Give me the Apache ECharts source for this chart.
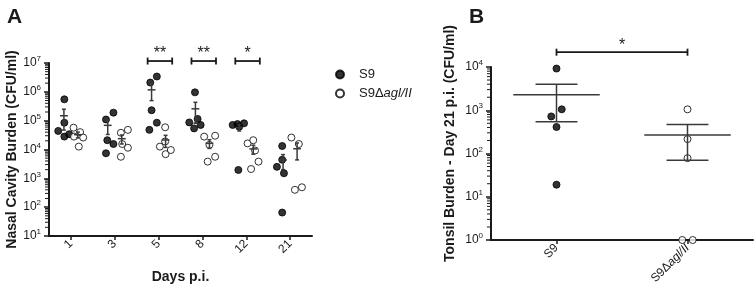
<!DOCTYPE html>
<html lang="en">
  <head>
    <meta charset="UTF-8" />
    <title>Nasal and tonsil burden</title>
    <script src="https://cdn.jsdelivr.net/npm/echarts@6/dist/echarts.min.js"></script>
    <style>
      html, body { margin: 0; padding: 0; background: #fff; }
    </style>
  </head>
  <body>
    <div id="main" style="width: 756px; height: 292px"></div>
    <script>
      // panel A - nasal cavity burden (CFU/ml), 5 pigs per group per day
      var days = ["1", "3", "5", "8", "12", "21"];
      var s9Nasal = [
        [5.5e5, 4.4e4, 8.5e4, 2.8e4, 3.4e4],
        [1.1e5, 1.9e5, 2.1e4, 1.55e4, 7.4e3],
        [2.1e6, 3.4e6, 2.3e5, 8.5e4, 4.8e4],
        [9.6e5, 1.15e5, 8.7e4, 7.1e4, 5.4e4],
        [7.1e4, 7.6e4, 8.1e4, 6.2e4, 1.95e3],
        [1.32e4, 2.5e3, 4.4e3, 1.5e3, 65]
      ];
      var mutNasal = [
        [5.7e4, 4.0e4, 2.8e4, 2.6e4, 1.26e4],
        [4.8e4, 3.8e4, 1.55e4, 1.15e4, 5.6e3],
        [5.9e4, 1.26e4, 6.9e3, 9.6e3, 1.9e4],
        [2.8e4, 3.0e4, 1.45e4, 5.6e3, 3.8e3],
        [1.63e4, 2.1e4, 9.2e3, 3.8e3, 2.1e3],
        [2.6e4, 1.55e4, 400, 490]
      ];
      // horizontal scatter of the dots (fraction of a category)
      var s9Jitter = [
        [0.01, -0.13, 0.01, 0.01, 0.12],
        [-0.04, 0.13, -0.01, 0.13, -0.04],
        [-0.03, 0.12, 0, 0.12, -0.05],
        [-0.01, 0.05, -0.14, 0.12, -0.03],
        [-0.15, -0.04, 0.11, 0, -0.02],
        [-0.02, -0.14, -0.02, 0.02, -0.02]
      ];
      var mutJitter = [
        [-0.1, 0.05, -0.09, 0.12, 0.02],
        [0.14, -0.02, 0.01, 0.14, -0.02],
        [-0.01, -0.13, 0, 0.12, -0.01],
        [-0.12, 0.13, 0, 0.13, -0.04],
        [-0.13, 0, 0.04, 0.12, -0.05],
        [-0.13, 0.04, -0.05, 0.11]
      ];
      var sigDays = [2, 3, 4];
      var sigStars = ["**", "**", "*"];
      var nasalExp = [1, 2, 3, 4, 5, 6, 7];

      // panel B - tonsil burden day 21
      var groups = ["S9", "S9Δagl/II"];
      var s9Tonsil = [9200, 1050, 720, 410, 19];
      var mutTonsil = [1050, 215, 78, 1, 1];
      var tonsilJitter = [
        [0, 0.04, -0.04, 0, 0],
        [0, 0, 0, -0.04, 0.04]
      ];
      var tonsilStars = ["*"];
      var tonsilExp = [0, 1, 2, 3, 4];

      var FONT = "Liberation Sans";
      var INK = "#1a1a1a";

      function mean(a) {
        return a.reduce(function (s, v) { return s + v; }, 0) / a.length;
      }
      function sem(a) {
        var m = mean(a);
        var ss = a.reduce(function (s, v) { return s + (v - m) * (v - m); }, 0);
        return Math.sqrt(ss / (a.length - 1)) / Math.sqrt(a.length);
      }
      // 2..9 x 10^k for the small log ticks
      function minorValues(exps) {
        var out = [];
        for (var k = 0; k < exps.length - 1; k++) {
          for (var f = 2; f <= 9; f++) out.push([0, f * Math.pow(10, exps[k])]);
        }
        return out;
      }

      var s9Pts = [], mutPts = [], s9Bars = [], mutBars = [];
      days.forEach(function (d, i) {
        var c = i + 0.5;
        s9Nasal[i].forEach(function (v, j) { s9Pts.push([c - 0.16 + s9Jitter[i][j], v]); });
        mutNasal[i].forEach(function (v, j) { mutPts.push([c + 0.16 + mutJitter[i][j], v]); });
        var m1 = mean(s9Nasal[i]), e1 = sem(s9Nasal[i]);
        var m2 = mean(mutNasal[i]), e2 = sem(mutNasal[i]);
        s9Bars.push([c - 0.16, m1, Math.max(m1 - e1, 1), m1 + e1]);
        mutBars.push([c + 0.16, m2, Math.max(m2 - e2, 1), m2 + e2]);
      });
      var sigA = sigDays.map(function (i) { return [i + 0.25, i + 0.81, 1.17e7]; });

      var tonsilSets = [s9Tonsil, mutTonsil];
      var tonsilPts = [[], []], tonsilBars = [];
      tonsilSets.forEach(function (set, g) {
        set.forEach(function (v, j) { tonsilPts[g].push([g + 0.5 + tonsilJitter[g][j], v]); });
        var m = mean(set), e = sem(set);
        tonsilBars.push([g + 0.5, m, Math.max(m - e, 1), m + e]);
      });
      var sigB = [[0.5, 1.5, 2.2e4]];

      function errorBar(halfMean, halfCap) {
        return function (params, api) {
          var x = api.value(0), m = api.value(1), lo = api.value(2), hi = api.value(3);
          var a = api.coord([x - halfMean, m]), b = api.coord([x + halfMean, m]);
          var t = api.coord([x, hi]), u = api.coord([x, lo]);
          var c1 = api.coord([x - halfCap, hi]), c2 = api.coord([x + halfCap, hi]);
          var d1 = api.coord([x - halfCap, lo]), d2 = api.coord([x + halfCap, lo]);
          var st = { stroke: "#3a3a3a", lineWidth: 1.5 };
          function seg(p, q) {
            return { type: "line", shape: { x1: p[0], y1: p[1], x2: q[0], y2: q[1] }, style: st };
          }
          return { type: "group", children: [seg(a, b), seg(t, u), seg(c1, c2), seg(d1, d2)] };
        };
      }

      function minorTick(params, api) {
        var p = api.coord([api.value(0), api.value(1)]);
        return {
          type: "line",
          shape: { x1: p[0] - 4, y1: p[1], x2: p[0], y2: p[1] },
          style: { stroke: INK, lineWidth: 1 }
        };
      }

      function bracket(stars) {
        return function (params, api) {
          var p = api.coord([api.value(0), api.value(2)]);
          var q = api.coord([api.value(1), api.value(2)]);
          var st = { stroke: INK, lineWidth: 1.8 };
          return {
            type: "group",
            children: [
              { type: "line", shape: { x1: p[0], y1: p[1], x2: q[0], y2: q[1] }, style: st },
              { type: "line", shape: { x1: p[0], y1: p[1] - 3.5, x2: p[0], y2: p[1] + 3.5 }, style: st },
              { type: "line", shape: { x1: q[0], y1: q[1] - 3.5, x2: q[0], y2: q[1] + 3.5 }, style: st },
              {
                type: "text",
                style: {
                  text: stars[params.dataIndex],
                  x: (p[0] + q[0]) / 2,
                  y: p[1] - 7,
                  align: "center",
                  verticalAlign: "middle",
                  font: "16px " + FONT,
                  fill: INK
                }
              }
            ]
          };
        };
      }

      var expLabel = {
        color: INK,
        fontFamily: FONT,
        formatter: function (v) {
          return "{b|10}{e|" + Math.round(Math.log10(v)) + "}";
        },
        rich: {
          b: { fontSize: 12, fontFamily: FONT, color: INK },
          e: { fontSize: 8, fontFamily: FONT, color: INK, padding: [0, 0, 8, 0] }
        }
      };
      var axisLineStyle = { lineStyle: { color: INK, width: 2 } };
      var tickStyle = { show: true, length: 5, lineStyle: { color: INK, width: 1.5 } };
      var nameStyle = { fontFamily: FONT, fontSize: 14, fontWeight: "bold", color: INK };
      var groupLabel = {
        rotate: 45,
        margin: 6,
        fontFamily: FONT,
        fontSize: 12,
        color: INK,
        formatter: function (v) {
          return v === "S9" ? "{n|S9}" : "{n|S9Δ}{i|agl/II}";
        },
        rich: {
          n: { fontFamily: FONT, fontSize: 12, color: INK },
          i: { fontFamily: FONT, fontSize: 12, color: INK, fontStyle: "italic" }
        }
      };
      var dot = { symbol: "circle", symbolSize: 7, itemStyle: { color: "#000", borderColor: "#000", borderWidth: 1 } };
      var ring = { symbol: "circle", symbolSize: 7, itemStyle: { color: "#fff", borderColor: "#000", borderWidth: 1 } };

      var myChart = echarts.init(document.getElementById("main"));
      var option = {
        animation: false,
        backgroundColor: "#fff",
        textStyle: { fontFamily: FONT },
        title: [
          { text: "A", left: 2, top: 2, textStyle: { fontFamily: FONT, fontSize: 21, fontWeight: "bold", color: INK } },
          { text: "B", left: 464, top: 2, textStyle: { fontFamily: FONT, fontSize: 21, fontWeight: "bold", color: INK } }
        ],
        legend: {
          orient: "vertical",
          left: 330,
          top: 63,
          itemWidth: 8,
          itemHeight: 8,
          itemGap: 6,
          data: ["S9", "S9Δagl/II"],
          textStyle: {
            fontFamily: FONT,
            fontSize: 13,
            color: INK,
            padding: [0, 0, 0, 10],
            rich: {
              n: { fontFamily: FONT, fontSize: 13, color: INK },
              i: { fontFamily: FONT, fontSize: 13, color: INK, fontStyle: "italic" }
            }
          },
          formatter: function (name) {
            return name === "S9" ? "{n|S9}" : "{n|S9Δ}{i|agl/II}";
          }
        },
        grid: [
          { left: 49, top: 63, width: 263, height: 173, outerBoundsMode: "none" },
          { left: 491, top: 67, width: 262, height: 173, outerBoundsMode: "none" }
        ],
        xAxis: [
          { type: "value", gridIndex: 0, position: "bottom", min: 0, max: days.length, show: false },
          {
            type: "category",
            gridIndex: 0,
            position: "bottom",
            data: days,
            boundaryGap: true,
            axisLine: axisLineStyle,
            axisTick: { show: true, alignWithLabel: true, length: 4, lineStyle: { color: INK, width: 1.5 } },
            axisLabel: { rotate: 45, margin: 6, fontFamily: FONT, fontSize: 12, color: INK },
            name: "Days p.i.",
            nameLocation: "middle",
            nameGap: 34,
            nameTextStyle: nameStyle
          },
          { type: "value", gridIndex: 1, position: "bottom", min: 0, max: groups.length, show: false },
          {
            type: "category",
            gridIndex: 1,
            position: "bottom",
            data: groups,
            boundaryGap: true,
            axisLine: axisLineStyle,
            axisTick: { show: true, alignWithLabel: true, length: 4, lineStyle: { color: INK, width: 1.5 } },
            axisLabel: groupLabel
          }
        ],
        yAxis: [
          {
            type: "log",
            gridIndex: 0,
            logBase: 10,
            min: Math.pow(10, nasalExp[0]),
            max: Math.pow(10, nasalExp[nasalExp.length - 1]),
            axisLine: { show: true, lineStyle: { color: INK, width: 2 } },
            axisTick: tickStyle,
            splitLine: { show: false },
            axisLabel: expLabel,
            name: "Nasal Cavity Burden (CFU/ml)",
            nameLocation: "middle",
            nameRotate: 90,
            nameGap: 30,
            nameTextStyle: nameStyle
          },
          {
            type: "log",
            gridIndex: 1,
            logBase: 10,
            min: Math.pow(10, tonsilExp[0]),
            max: Math.pow(10, tonsilExp[tonsilExp.length - 1]),
            axisLine: { show: true, lineStyle: { color: INK, width: 2 } },
            axisTick: tickStyle,
            splitLine: { show: false },
            axisLabel: expLabel,
            name: "Tonsil Burden - Day 21 p.i. (CFU/ml)",
            nameLocation: "middle",
            nameRotate: 90,
            nameGap: 34,
            nameTextStyle: Object.assign({ padding: [0, 0, 0, 20] }, nameStyle)
          }
        ],
        series: [
          { type: "custom", xAxisIndex: 0, yAxisIndex: 0, data: minorValues(nasalExp), encode: { x: 0, y: 1 }, renderItem: minorTick, clip: false, silent: true, z: 5 },
          Object.assign({ type: "scatter", name: "S9", xAxisIndex: 0, yAxisIndex: 0, data: s9Pts, clip: false, z: 3 }, dot),
          Object.assign({ type: "scatter", name: "S9Δagl/II", xAxisIndex: 0, yAxisIndex: 0, data: mutPts, clip: false, z: 3 }, ring),
          { type: "custom", xAxisIndex: 0, yAxisIndex: 0, data: s9Bars.concat(mutBars), encode: { x: 0, y: [1, 2, 3] }, renderItem: errorBar(0.09, 0.045), z: 4 },
          { type: "custom", xAxisIndex: 0, yAxisIndex: 0, data: sigA, encode: { x: [0, 1], y: 2 }, renderItem: bracket(sigStars), clip: false },
          { type: "custom", xAxisIndex: 2, yAxisIndex: 1, data: minorValues(tonsilExp), encode: { x: 0, y: 1 }, renderItem: minorTick, clip: false, silent: true, z: 5 },
          Object.assign({ type: "scatter", name: "S9", xAxisIndex: 2, yAxisIndex: 1, data: tonsilPts[0], clip: false, z: 3 }, dot),
          Object.assign({ type: "scatter", name: "S9Δagl/II", xAxisIndex: 2, yAxisIndex: 1, data: tonsilPts[1], clip: false, z: 3 }, ring),
          { type: "custom", xAxisIndex: 2, yAxisIndex: 1, data: tonsilBars, encode: { x: 0, y: [1, 2, 3] }, renderItem: errorBar(0.33, 0.16), z: 4 },
          { type: "custom", xAxisIndex: 2, yAxisIndex: 1, data: sigB, encode: { x: [0, 1], y: 2 }, renderItem: bracket(tonsilStars), clip: false }
        ]
      };
      myChart.setOption(option);
    </script>
  </body>
</html>
